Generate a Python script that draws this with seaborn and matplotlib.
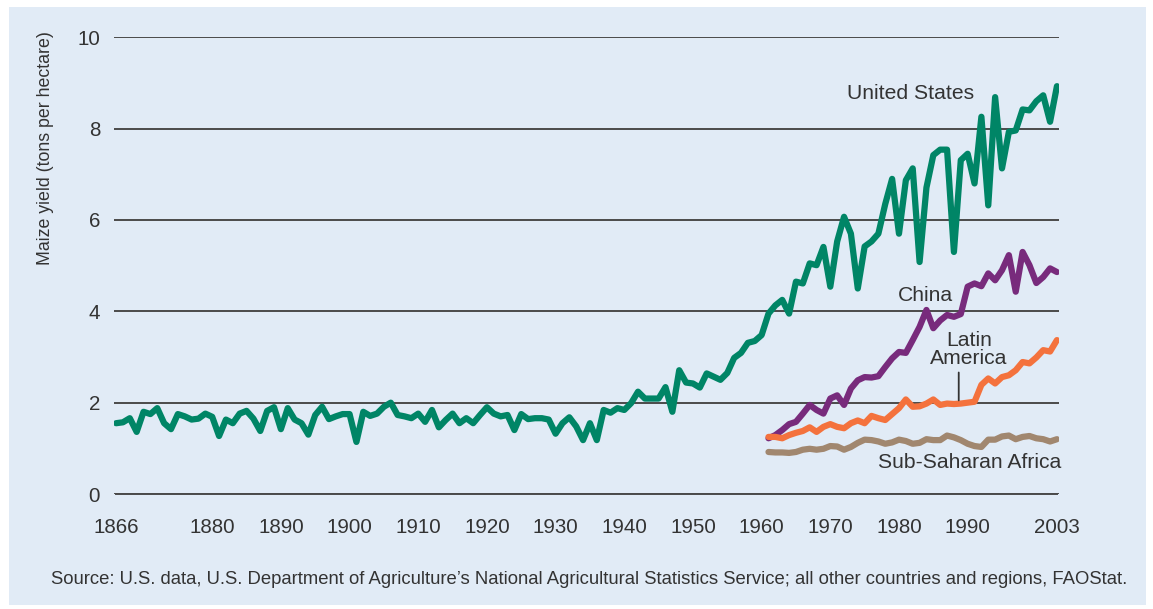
import numpy as np
import pandas as pd
import matplotlib
matplotlib.use("Agg")
import matplotlib.pyplot as plt
from matplotlib.patches import Rectangle
import seaborn as sns

# ---------------- data ----------------
us_years = list(range(1866, 2004))
us_yield = [
    1.55, 1.57, 1.66, 1.36, 1.80, 1.75, 1.88, 1.55, 1.42, 1.75,   # 1866-1875
    1.70, 1.63, 1.65, 1.76, 1.69, 1.27, 1.63, 1.55, 1.76, 1.82,   # 1876-1885
    1.65, 1.38, 1.82, 1.90, 1.42, 1.88, 1.63, 1.55, 1.30, 1.73,   # 1886-1895
    1.91, 1.64, 1.70, 1.75, 1.75, 1.14, 1.80, 1.71, 1.76, 1.91,   # 1896-1905
    2.00, 1.73, 1.70, 1.66, 1.76, 1.58, 1.84, 1.46, 1.62, 1.76,   # 1906-1915
    1.55, 1.66, 1.55, 1.73, 1.90, 1.76, 1.70, 1.73, 1.40, 1.75,   # 1916-1925
    1.64, 1.66, 1.66, 1.63, 1.32, 1.55, 1.68, 1.48, 1.18, 1.55,   # 1926-1935
    1.18, 1.84, 1.78, 1.88, 1.84, 1.99, 2.24, 2.09, 2.09, 2.09,   # 1936-1945
    2.34, 1.80, 2.71, 2.44, 2.42, 2.33, 2.64, 2.57, 2.50, 2.65,   # 1946-1955
    2.98, 3.09, 3.31, 3.35, 3.48, 3.95, 4.13, 4.25, 3.95, 4.65,   # 1956-1965
    4.61, 5.05, 5.01, 5.41, 4.54, 5.53, 6.07, 5.70, 4.50, 5.42,   # 1966-1975
    5.53, 5.70, 6.35, 6.90, 5.70, 6.87, 7.13, 5.08, 6.71, 7.42,   # 1976-1985
    7.54, 7.54, 5.30, 7.31, 7.45, 6.80, 8.26, 6.32, 8.69, 7.13,   # 1986-1995
    7.93, 7.96, 8.42, 8.40, 8.60, 8.73, 8.15, 8.93,               # 1996-2003
]

other_years = list(range(1961, 2004))
china_yield = [
    1.22, 1.29, 1.40, 1.53, 1.58, 1.76, 1.95, 1.84, 1.76, 2.09,
    2.16, 1.95, 2.31, 2.49, 2.56, 2.55, 2.58, 2.78, 2.97, 3.11,
    3.09, 3.37, 3.66, 4.03, 3.63, 3.80, 3.92, 3.88, 3.94, 4.54,
    4.61, 4.55, 4.83, 4.68, 4.90, 5.23, 4.43, 5.30, 5.01, 4.62,
    4.75, 4.94, 4.86,
]
latam_yield = [
    1.25, 1.25, 1.22, 1.29, 1.34, 1.38, 1.46, 1.36, 1.47, 1.53,
    1.47, 1.44, 1.55, 1.61, 1.55, 1.71, 1.66, 1.62, 1.75, 1.88,
    2.07, 1.91, 1.92, 1.98, 2.07, 1.95, 1.98, 1.97, 1.98, 2.00,
    2.02, 2.39, 2.53, 2.42, 2.56, 2.60, 2.71, 2.89, 2.86, 2.99,
    3.15, 3.12, 3.37,
]
ssa_yield = [
    0.92, 0.91, 0.91, 0.90, 0.92, 0.97, 0.99, 0.97, 0.99, 1.05,
    1.04, 0.97, 1.03, 1.12, 1.19, 1.18, 1.15, 1.10, 1.13, 1.19,
    1.16, 1.10, 1.12, 1.20, 1.18, 1.18, 1.28, 1.24, 1.18, 1.10,
    1.05, 1.03, 1.19, 1.19, 1.26, 1.28, 1.20, 1.25, 1.27, 1.22,
    1.20, 1.15, 1.20,
]

region_names = ["United States", "China", "Sub-Saharan Africa", "Latin America"]
x_tick_years = [1866, 1880, 1890, 1900, 1910, 1920, 1930, 1940, 1950, 1960, 1970, 1980, 1990, 2003]
y_ticks = [0, 2, 4, 6, 8, 10]
source_text = ("Source: U.S. data, U.S. Department of Agriculture\u2019s National Agricultural "
               "Statistics Service; all other countries and regions, FAOStat.")
y_label = "Maize yield (tons per hectare)"

# ---------------- build long table ----------------
frames = [
    pd.DataFrame({"year": us_years, "yield": us_yield, "region": "United States"}),
    pd.DataFrame({"year": other_years, "yield": china_yield, "region": "China"}),
    pd.DataFrame({"year": other_years, "yield": ssa_yield, "region": "Sub-Saharan Africa"}),
    pd.DataFrame({"year": other_years, "yield": latam_yield, "region": "Latin America"}),
]
df = pd.concat(frames, ignore_index=True)

palette = {
    "United States": "#008566",
    "China": "#782b7c",
    "Sub-Saharan Africa": "#a1876f",
    "Latin America": "#f4723d",
}

# ---------------- style ----------------
sns.set_style("white")
plt.rcParams["font.family"] = ["Liberation Sans", "DejaVu Sans"]

W, H = 1153, 609
fig = plt.figure(figsize=(W / 100, H / 100), dpi=100)
fig.patch.set_facecolor("white")
bg = "#e1ebf6"
fig.patches.append(Rectangle((9 / W, (H - 605) / H), (1146 - 9) / W, (605 - 7) / H,
                             transform=fig.transFigure, facecolor=bg, edgecolor="none", zorder=-5))

left_px, right_px = 114, 1059
bottom_px, top_px = 494, 37.3
ax = fig.add_axes([left_px / W, (H - bottom_px) / H,
                   (right_px - left_px) / W, (bottom_px - top_px) / H])
ax.set_zorder(5)
ax.set_facecolor("none")
ax.patch.set_alpha(0)

for name in region_names:
    sub = df[df["region"] == name]
    sns.lineplot(data=sub, x="year", y="yield", color=palette[name], linewidth=4.5,
                 ax=ax, legend=False, estimator=None,
                 solid_joinstyle="round", solid_capstyle="round", zorder=3)

ax.set_xlim(1865.7, 2003.3)
ax.set_ylim(0, 10)

# grid
grid_color = "#4a4a4a"
ax.set_yticks(y_ticks)
ax.set_yticklabels([str(v) for v in y_ticks])
ax.yaxis.grid(True, color=grid_color, linewidth=1.4, zorder=1)
ax.xaxis.grid(False)
ax.set_axisbelow(True)

for s in ["top", "right", "left"]:
    ax.spines[s].set_visible(False)
ax.spines["bottom"].set_color(grid_color)
ax.spines["bottom"].set_linewidth(1.4)
ax.spines["bottom"].set_bounds(1866, 2003)

ax.set_xticks(x_tick_years)
ax.set_xticklabels([str(v) for v in x_tick_years])
ax.tick_params(axis="x", direction="out", length=11, width=1.4, color=grid_color,
               pad=6, labelsize=14.8, labelcolor="#333333")
ax.tick_params(axis="y", length=0, pad=10, labelsize=14.8, labelcolor="#333333")
ax.set_xlabel("")
ax.set_ylabel("")

fig.text(46 / W, 1 - 148 / H, y_label, rotation=90, ha="center", va="center",
         fontsize=12.8, color="#333333")

# labels
lab_kw = dict(fontsize=15.2, color="#333333", ha="center", va="center", zorder=4)
ax.text(1981.7, 8.77, "United States", **lab_kw)
ax.text(1983.9, 4.35, "China", **lab_kw)
ax.text(1990.2, 3.17, "Latin\nAmerica", linespacing=0.95, **lab_kw)
ax.text(1990.3, 0.68, "Sub-Saharan Africa", **lab_kw)
ax.annotate("", xy=(1988.7, 2.05), xytext=(1988.7, 2.66),
            arrowprops=dict(arrowstyle="-", color="#333333", lw=1.3, shrinkA=0, shrinkB=0))

fig.text(589 / W, 1 - 579 / H, source_text, ha="center", va="center",
         fontsize=13.3, color="#333333")

fig.savefig("out.png", dpi=100, facecolor=fig.get_facecolor())
